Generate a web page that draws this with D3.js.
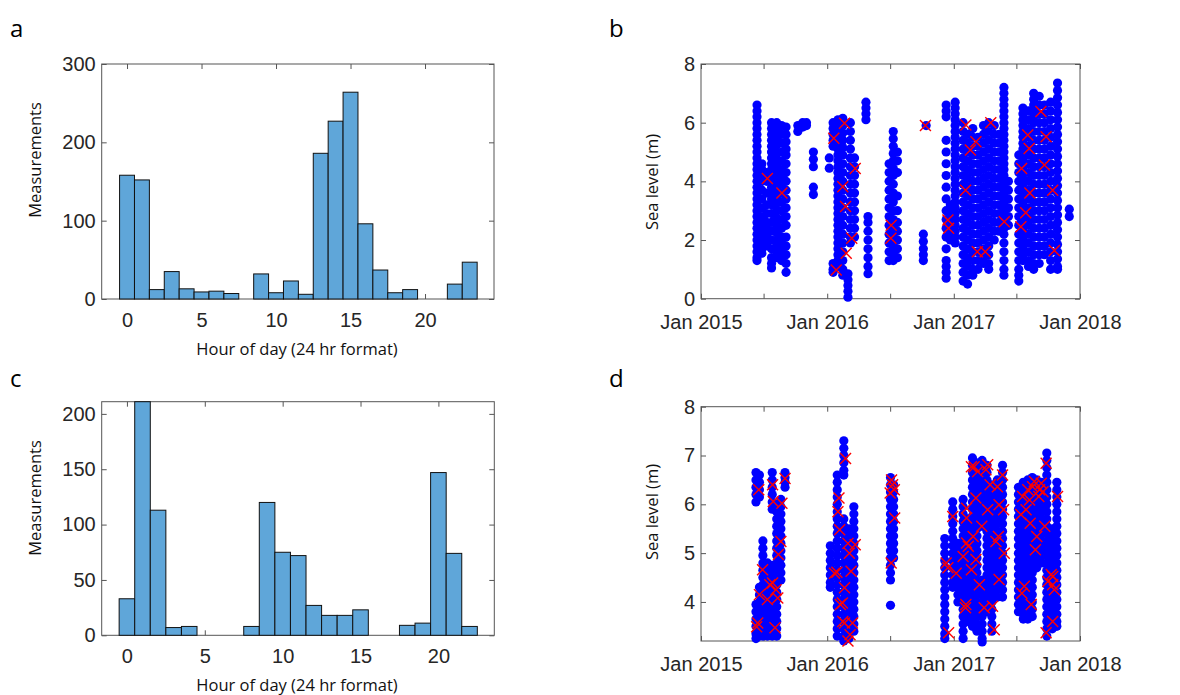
<!DOCTYPE html>
<html>
<head>
<meta charset="utf-8">
<script src="https://cdn.jsdelivr.net/npm/d3@7"></script>
<style>
  body { margin: 0; background: #fff; }
  .tick text { font-family: "Liberation Sans", Arial, sans-serif; font-size: 20px; fill: #262626; }
  .tick line { stroke: #555; }
  .lbl { font-family: "Open Sans", sans-serif; font-size: 16.5px; fill: #111; }
  .panel { font-family: "Open Sans", sans-serif; font-size: 24px; fill: #000; }
</style>
</head>
<body>
<script>
// ---- data ----
var hoursA = [0,1,2,3,4,5,6,7,8,9,10,11,12,13,14,15,16,17,18,19,20,21,22,23];
var countsA = [158,152,12,35,13,9,10,7,0,32,8,23,6,186,227,264,96,37,8,12,0,0,19,47];
var hoursC = [0,1,2,3,4,5,6,7,8,9,10,11,12,13,14,15,16,17,18,19,20,21,22];
var countsC = [33,211,113,7,8,0,0,0,8,120,75,72,27,18,18,23,0,0,9,11,147,74,8];

var histTicks = [0,5,10,15,20];
var yTicksA = [0,100,200,300];
var yTicksC = [0,50,100,150,200];
var yTicksB = [0,2,4,6,8];
var yTicksD = [4,5,6,7,8];

// sea level measurements, grouped by date: [date, "levels"]
var seaB = [
  ["2015-06-12","6.6 6.4 6.2 6.0 5.8 5.6 5.4 5.2 5.0 4.8 4.6 4.4 4.2 4.0 3.8 3.6 3.4 3.2 3.0 2.8 2.6 2.4 2.2 2.0 1.8 1.6 1.4 1.3"],
  ["2015-06-26","4.6 4.4 4.2 4.0 3.7 3.4 3.1 2.8 2.5 2.3 2.1 1.9 1.7 1.55"],
  ["2015-07-10","4.3 4.0 3.6 3.2 2.9 2.6 2.4 2.2 2.0 1.9 1.8"],
  ["2015-07-24","6.0 5.8 5.6 5.4 5.2 5.0 4.8 4.6 4.4 4.2 4.0 3.8 3.6 3.4 3.2 2.9 2.6 2.3 2.0 1.7 1.4 1.2 1.05"],
  ["2015-08-08","6.0 5.75 5.5 5.25 5.0 4.75 4.5 4.25 4.0 3.75 3.5 3.25 3.0 2.75 2.5 2.25 2.0 1.8 1.6 1.4"],
  ["2015-08-22","5.9 5.6 5.3 5.0 4.7 4.4 4.1 3.9 3.6 3.3 3.0 2.7 2.4 2.1 1.9 1.7 1.5 1.3"],
  ["2015-09-04","5.85 5.6 5.35 5.1 4.9 4.6 4.3 4.0 3.7 3.4 3.1 2.8 2.5 2.1 1.8 1.5 1.2 0.9"],
  ["2015-10-08","5.7 5.9"],
  ["2015-10-22","5.85 6.0"],
  ["2015-11-02","5.9 6.0"],
  ["2015-11-22","5.0 4.75 4.5 3.8 3.55"],
  ["2016-01-07","4.8 4.45"],
  ["2016-01-18","6.0 5.8 5.6 5.4 5.2 1.2 1.0 0.9"],
  ["2016-02-01","6.1 5.9 5.7 5.5 5.3 5.1 4.9 4.7 4.5 4.3 4.1 3.9 3.7 3.5 3.3 3.1 2.9 2.7 2.5 2.3 2.1 1.9 1.7 1.5 1.3 1.1"],
  ["2016-02-15","6.15 5.9 5.65 5.4 5.15 4.9 4.6 4.3 4.0 3.7 3.4 3.1 2.8 2.5 2.2 1.9 1.6 1.3 1.0 0.8"],
  ["2016-03-01","0.85 0.65 0.45 0.25 0.05"],
  ["2016-03-08","6.0 5.7 5.4 5.1 4.8 4.5 4.2 3.9 3.6 3.3 3.0 2.7 2.4 2.1 1.9"],
  ["2016-03-20","4.8 4.5 4.2 3.9 3.6 3.3 3.0 2.7 2.4 2.1"],
  ["2016-04-22","6.7 6.5 6.3 6.1"],
  ["2016-04-28","2.8 2.6 2.3 2.0 1.7 1.4 1.1 0.85"],
  ["2016-06-28","4.6 4.3 4.0 3.7 3.4 3.1 2.8 2.5 2.2 1.9 1.6 1.3"],
  ["2016-07-10","5.7 5.45 5.2 4.95 4.7 4.45 4.2 3.9 3.6 3.3 3.0 2.7 2.4 2.1 1.8 1.5 1.3"],
  ["2016-07-22","5.0 4.7 4.3 3.5 3.0 2.6 2.3 2.0 1.7 1.4"],
  ["2016-10-05","2.2 1.95 1.7 1.5 1.3"],
  ["2016-10-13","5.9"],
  ["2016-12-10","6.6 6.4 6.2 5.4 5.0 4.6 4.2 3.8 3.4 3.0 2.7 2.4 2.1 1.7 1.3 1.1 0.9 0.7"],
  ["2016-12-22","3.2 3.0 2.8 2.6 2.4 2.2 2.0"],
  ["2017-01-05","6.7 6.5 6.3 6.1 5.9 5.7 5.5 5.3 5.1 4.9 4.7 4.5 4.3 4.1 3.9 3.7 3.5 3.3 3.1 2.9 2.7 2.5 2.3 2.1 1.9"],
  ["2017-01-28","6.0 5.7 5.4 5.1 4.8 4.5 4.2 3.9 3.6 3.3 3.0 2.7 2.4 2.1 1.8 1.5 1.2 0.9 0.6"],
  ["2017-02-10","5.6 5.3 5.0 4.7 4.4 4.1 3.8 3.5 3.2 2.9 2.6 2.3 2.0 1.7 1.4 1.1 0.8 0.5"],
  ["2017-02-25","5.8 5.5 5.2 4.9 4.6 4.3 4.0 3.7 3.4 3.1 2.8 2.5 2.2 1.9 1.6 1.3 1.0 0.8"],
  ["2017-03-12","5.5 5.2 4.9 4.6 4.3 4.0 3.7 3.4 3.1 2.8 2.5 2.2 1.9 1.6 1.3 1.0"],
  ["2017-03-28","5.9 5.6 5.3 5.0 4.7 4.4 4.1 3.8 3.5 3.2 2.9 2.6 2.3 2.0 1.7 1.4 1.2"],
  ["2017-04-12","6.0 5.7 5.4 5.1 4.8 4.5 4.2 3.9 3.6 3.3 3.0 2.7 2.4 2.1 1.8 1.5 1.2 1.0"],
  ["2017-04-28","5.9 5.6 5.3 5.0 4.7 4.4 4.1 3.8 3.5 3.2 2.9 2.6 2.3 2.0"],
  ["2017-05-12","5.6 5.3 5.0 4.7 4.4 4.1 3.8 3.5 3.2 2.9 2.6 2.3"],
  ["2017-05-26","7.2 7.0 6.8 6.6 6.4 6.2 6.0 5.8 5.6 5.4 5.2 5.0 4.8 4.6 4.4 4.2 4.0 3.8 3.6 3.4 3.2 3.0 2.8 2.6 2.4 2.2 1.9 1.6 1.3 1.0 0.8"],
  ["2017-06-08","4.0 3.7 3.4 3.1 2.8 2.5"],
  ["2017-07-08","4.9 4.6 4.3 4.0 3.7 3.4 3.1 2.8 2.5 2.2 1.9 1.6 1.3 1.0 0.8 0.6"],
  ["2017-07-20","6.5 6.3 6.1 5.9 5.7 5.5 5.3 5.1 4.9 4.7 4.5 4.3 4.1 3.9 3.7 3.5 3.3 3.1 2.9 2.7 2.5 2.3 2.1 1.9 1.7 1.5 1.3"],
  ["2017-08-05","6.4 6.1 5.8 5.5 5.2 4.9 4.6 4.3 4.0 3.7 3.4 3.1 2.8 2.5 2.2 1.9 1.6 1.3 1.1"],
  ["2017-08-20","7.0 6.8 6.6 6.4 6.2 6.0 5.7 5.4 5.1 4.8 4.5 4.2 3.9 3.6 3.3 3.0 2.7 2.4 2.1 1.8 1.5 1.2 1.0"],
  ["2017-09-05","6.9 6.6 6.3 6.0 5.7 5.4 5.1 4.8 4.5 4.2 3.9 3.6 3.3 3.0 2.7 2.4 2.1 1.8 1.5 1.2"],
  ["2017-09-20","6.6 6.3 6.0 5.7 5.4 5.1 4.8 4.5 4.2 3.9 3.6 3.3 3.0 2.7 2.4 2.1 1.8 1.5"],
  ["2017-10-08","6.7 6.4 6.1 5.8 5.5 5.2 4.9 4.6 4.3 4.0 3.7 3.4 3.1 2.8 2.5 2.2 1.9 1.6 1.3 1.0"],
  ["2017-10-28","7.35 7.1 6.85 6.6 6.35 6.1 5.85 5.6 5.35 5.1 4.85 4.6 4.35 4.1 3.85 3.6 3.35 3.1 2.85 2.6 2.35 2.1 1.85 1.6 1.35 1.1 1.0"],
  ["2017-12-01","3.05 2.8"]
];
var crossB = [
  ["2015-07-12",4.1],["2015-08-23",3.6],["2016-01-20",5.47],["2016-01-27",0.98],
  ["2016-02-20",5.98],["2016-02-15",3.82],["2016-02-23",3.14],["2016-02-25",1.55],
  ["2016-03-22",4.44],["2016-03-12",2.06],["2016-07-04",2.5],["2016-07-03",2.06],
  ["2016-10-11",5.9],["2016-12-15",2.68],["2016-12-17",2.4],["2017-02-05",5.92],
  ["2017-02-04",3.7],["2017-02-18",5.07],["2017-03-06",5.35],["2017-03-10",1.6],
  ["2017-04-02",1.6],["2017-04-18",6.0],["2017-05-27",2.62],["2017-07-14",2.45],
  ["2017-07-16",4.44],["2017-08-03",5.58],["2017-08-07",5.12],["2017-07-28",2.93],
  ["2017-08-09",3.6],["2017-09-10",6.38],["2017-09-20",4.56],["2017-09-25",5.52],
  ["2017-10-14",3.7],["2017-10-19",1.64]
];

var seaD = [
  ["2015-06-09","6.65 6.5 6.35 6.2 6.05 3.95 3.8 3.65 3.5 3.35 3.25"],
  ["2015-06-19","6.6 6.45 6.3 6.15 4.3 4.15 4.0 3.85 3.7 3.55 3.4 3.3"],
  ["2015-06-29","5.25 5.1 4.95 4.8 4.65 4.5 4.35 4.2 4.05 3.9 3.75 3.6 3.45 3.3"],
  ["2015-07-12","4.8 4.65 4.5 4.35 4.2 4.05 3.9 3.75 3.6 3.45 3.3"],
  ["2015-07-26","6.65 6.5 6.35 6.2 6.05 5.9 4.75 4.6 4.45 4.3 4.15 4.0 3.85 3.7 3.55 3.4 3.3"],
  ["2015-08-08","6.0 5.85 5.7 5.55 5.4 5.25 5.1 4.95 4.8 4.65 4.5 4.35 4.2 4.05 3.9 3.75 3.6 3.45 3.3"],
  ["2015-08-20","6.1 5.95 5.8 5.65 5.5 5.35 5.2 5.05 4.9 4.75 4.6 4.45"],
  ["2015-09-01","6.65 6.55 6.45 6.35"],
  ["2016-01-10","5.15 5.0 4.85 4.7 4.55 4.4 4.3"],
  ["2016-01-30","6.6 6.45 6.3 6.15 6.0 5.85 5.7 5.55 5.4 5.25 5.1 4.95 4.8 4.65 4.5 4.35 4.2 4.05 3.9 3.75 3.6 3.45 3.3"],
  ["2016-02-18","7.3 7.15 7.0 6.85 6.7 6.6 5.7 5.55 5.4 5.25 5.1 4.95 4.8 4.65 4.5 4.35 4.2 4.05 3.9 3.75 3.6 3.45 3.3 3.2"],
  ["2016-03-04","5.5 5.35 5.2 5.05 4.9 4.75 4.6 4.45 4.3 4.15 4.0 3.85 3.7 3.55 3.4 3.25"],
  ["2016-03-18","5.95 5.8 5.65 5.5 5.35 5.2 5.05 4.9 4.75 4.6 4.45 4.3 4.15 4.0 3.85 3.7 3.55 3.4"],
  ["2016-07-02","6.55 6.4 6.25 6.1 5.95 5.8 5.65 5.5 5.35 5.2 5.05 4.9 4.75 4.6 4.45 3.93"],
  ["2016-07-11","6.4 6.25 6.1 5.95 5.8 5.65 5.5 5.35 5.2 5.05 4.9"],
  ["2016-12-06","5.3 5.15 5.0 4.85 4.7 4.55 4.4 4.25 4.1 3.95 3.8 3.65 3.5 3.35 3.25"],
  ["2016-12-29","6.05 5.9 5.75 5.6 5.45 5.3 5.15 5.0 4.85 4.7 4.55 4.4 4.3"],
  ["2017-01-13","5.2 5.05 4.9 4.75 4.6 4.45 4.3 4.15 4.0"],
  ["2017-01-28","6.1 5.95 5.8 5.65 5.5 5.35 5.2 5.05 4.9 4.75 4.6 4.45 4.3 4.15 4.0 3.85 3.7 3.55 3.4 3.25"],
  ["2017-02-10","5.7 5.55 5.4 5.25 5.1 4.95 4.8 4.65 4.5 4.35 4.2 4.05 3.9 3.75 3.6"],
  ["2017-02-24","6.95 6.8 6.65 6.5 6.35 6.2 6.05 5.9 5.75 5.6 5.45 5.3 5.15 5.0 4.85 4.7 4.55 4.4 4.25 4.1 3.95 3.8 3.65 3.5"],
  ["2017-03-09","6.85 6.7 6.55 6.4 6.25 6.1 5.95 5.8 5.65 5.5 5.35 5.2 5.05 4.9 4.75 4.6 4.45 4.3 4.15 4.0 3.85 3.7 3.55 3.4"],
  ["2017-03-24","6.9 6.75 6.6 6.45 6.3 6.15 6.0 5.85 5.7 5.55 4.45 4.3 4.15 4.0 3.85 3.7 3.55 3.4 3.25 3.18"],
  ["2017-04-07","6.8 6.65 6.5 6.35 6.2 6.05 5.9 5.75 5.6 5.45 5.3 5.15 5.0 4.85 4.7 4.55 4.4 4.25 4.1 3.95 3.8"],
  ["2017-04-21","6.4 6.25 6.1 5.95 5.8 5.65 5.5 5.35 5.2 5.05 4.9 4.75 4.6 4.45 4.3 4.15 4.0 3.85 3.7 3.55 3.4"],
  ["2017-05-07","6.5 6.35 6.2 6.05 5.9 5.75 5.6 5.45 5.3 5.15 5.0 4.85 4.7 4.55 4.4 4.25 4.1"],
  ["2017-05-22","6.8 6.65 6.5 6.35 6.2 6.05 5.9 5.75 5.6 5.45 5.3 5.15 5.0 4.85 4.7 4.55 4.4 4.25 4.1"],
  ["2017-07-07","6.35 6.2 6.05 5.9 5.75 5.6 5.45 5.3 5.15 5.0 4.85 4.7 4.55 4.4 4.25 4.1 3.95 3.8"],
  ["2017-07-21","6.45 6.3 6.15 6.0 5.85 5.7 5.55 5.4 5.25 5.1 4.95 4.8 4.65 4.5 4.35 4.2 4.05 3.9 3.75 3.65"],
  ["2017-08-03","6.5 6.35 6.2 6.05 5.9 5.75 5.6 5.45 5.3 5.15 5.0 4.85 4.7 4.55 4.4 4.25 4.1 3.95 3.8 3.65"],
  ["2017-08-16","6.55 6.4 6.25 6.1 5.95 5.8 5.65 5.5 5.35 5.2 5.05 4.9 4.75 4.6 4.45 4.3 4.15 4.0 3.85 3.7"],
  ["2017-08-29","6.5 6.35 6.2 6.05 5.9 5.75 5.6 5.45 5.3 5.15 5.0 4.85 4.7"],
  ["2017-09-12","6.45 6.3 6.15 6.0 5.85 5.7 5.55 5.4 5.25 5.1 4.95 4.8"],
  ["2017-09-27","7.05 6.9 6.75 6.6 6.45 6.3 6.15 6.0 5.85 5.7 5.55 5.4 5.25 5.1 4.95 4.8 4.65 4.5 4.35 4.2 4.05 3.9 3.75 3.6 3.45 3.3"],
  ["2017-10-13","5.5 5.35 5.2 5.05 4.9 4.75 4.6 4.45 4.3 4.15 4.0 3.85 3.7 3.55 3.45"],
  ["2017-10-26","6.45 6.3 6.15 6.0 5.85 5.7 5.55 5.4 5.25 5.1 4.95 4.8 4.65 4.5 4.35 4.2 4.05 3.9 3.75 3.6 3.5"]
];
var crossD = [
  ["2015-06-17",6.3],["2015-07-27",6.4],["2015-09-01",6.53],["2015-07-29",6.06],["2015-08-23",6.02],
  ["2015-08-20",5.24],["2015-08-13",4.97],["2015-06-28",4.66],["2015-06-19",4.15],["2015-07-19",4.35],
  ["2015-07-27",4.39],["2015-08-06",4.25],["2015-07-12",4.05],["2015-08-11",4.08],["2015-06-14",3.57],
  ["2015-06-11",3.49],["2015-08-03",3.47],
  ["2016-02-23",6.94],["2016-02-04",6.13],["2016-02-01",5.85],["2016-02-06",5.48],["2016-01-22",4.59],
  ["2016-01-29",4.61],["2016-02-20",4.29],["2016-02-14",3.98],["2016-02-08",3.95],["2016-02-15",3.6],
  ["2016-02-20",3.57],["2016-03-14",3.57],["2016-03-07",3.33],["2016-03-01",3.2],["2016-03-05",5.0],
  ["2016-03-22",5.17],["2016-03-10",4.63],["2016-03-01",5.2],
  ["2016-07-01",6.23],["2016-07-13",6.3],["2016-07-08",6.4],["2016-07-14",5.72],["2016-07-04",4.8],["2016-07-05",6.5],
  ["2016-12-10",4.8],["2016-12-15",4.7],["2016-12-17",3.37],["2016-12-29",5.75],["2017-01-08",4.59],
  ["2017-01-28",4.93],["2017-02-07",5.92],["2017-02-07",5.72],["2017-02-07",5.21],["2017-02-05",3.95],
  ["2017-02-04",3.88],["2017-02-12",5.14],["2017-02-21",4.66],["2017-02-26",5.34],["2017-03-01",6.77],
  ["2017-03-06",4.87],["2017-03-11",6.67],["2017-03-16",4.35],["2017-03-23",5.55],["2017-03-30",3.88],
  ["2017-04-04",6.71],["2017-04-09",6.81],["2017-04-09",5.89],["2017-04-23",3.91],["2017-04-28",3.43],
  ["2017-05-03",5.24],["2017-05-10",5.34],["2017-05-12",5.99],["2017-05-22",6.6],["2017-05-25",5.89],
  ["2017-05-27",5.0],["2017-05-12",4.46],["2017-04-16",6.4],["2017-05-07",6.36],["2017-02-21",6.77],
  ["2017-03-06",6.13],
  ["2017-07-14",5.79],["2017-07-19",6.16],["2017-07-17",4.18],["2017-07-24",4.32],["2017-07-29",5.89],
  ["2017-08-03",6.3],["2017-08-08",6.09],["2017-08-10",5.61],["2017-08-13",3.95],["2017-08-17",6.36],
  ["2017-08-22",6.47],["2017-08-25",5.07],["2017-08-29",5.34],["2017-09-04",6.16],["2017-09-06",6.3],
  ["2017-09-11",6.43],["2017-09-16",6.26],["2017-09-21",5.55],["2017-09-25",6.84],["2017-09-30",4.42],
  ["2017-09-25",3.37],["2017-10-10",4.56],["2017-10-14",4.52],["2017-10-14",4.35],["2017-10-14",3.6],
  ["2017-10-28",6.16],["2017-10-19",4.25]
];

var parseDate = d3.timeParse("%Y-%m-%d");
var monthFmt = d3.timeFormat("%b %Y");

var svg = d3.select("body").append("svg")
    .attr("width", 1180)
    .attr("height", 695);

function drawFrame(g, x, y, xTicks, yTicks, xFmt, xPad) {
  var xb = d3.axisBottom(x).tickValues(xTicks).tickSize(-5).tickPadding(xPad).tickFormat(xFmt);
  var xt = d3.axisTop(x).tickValues(xTicks).tickSize(-5).tickFormat("");
  var yl = d3.axisLeft(y).tickValues(yTicks).tickSize(-5).tickPadding(6).tickFormat(d3.format("d"));
  var yr = d3.axisRight(y).tickValues(yTicks).tickSize(-5).tickFormat("");
  var r = x.range(), h = y.range();
  g.append("g").attr("transform", "translate(0," + h[0] + ")").call(xb);
  g.append("g").attr("transform", "translate(0," + h[1] + ")").call(xt);
  g.append("g").attr("transform", "translate(" + r[0] + ",0)").call(yl);
  g.append("g").attr("transform", "translate(" + r[1] + ",0)").call(yr);
  g.selectAll(".domain").remove();
  g.append("rect")
    .attr("x", r[0]).attr("y", h[1])
    .attr("width", r[1] - r[0]).attr("height", h[0] - h[1])
    .attr("fill", "none").attr("stroke", "#555").attr("stroke-width", 1);
}

function drawHist(hours, counts, box, xDom, yMax, yTicks) {
  var g = svg.append("g");
  var x = d3.scaleLinear().domain(xDom).range([box.left, box.right]);
  var y = d3.scaleLinear().domain([0, yMax]).range([box.bottom, box.top]);
  drawFrame(g, x, y, histTicks, yTicks, d3.format("d"), 14);
  g.selectAll(".bar").data(hours).enter().append("rect")
    .attr("x", function(d){ return x(d - 0.5); })
    .attr("width", function(d){ return x(d + 0.5) - x(d - 0.5); })
    .attr("y", function(d, i){ return y(counts[i]); })
    .attr("height", function(d, i){ return y(0) - y(counts[i]); })
    .attr("fill", "#5fa6d9")
    .attr("stroke", "#111")
    .attr("stroke-width", 1);
  return g;
}

function drawSea(cols, crosses, box, yDom, yTicks) {
  var g = svg.append("g");
  var x = d3.scaleTime().domain([parseDate("2015-01-01"), parseDate("2018-01-01")]).range([box.left, box.right]);
  var y = d3.scaleLinear().domain(yDom).range([box.bottom, box.top]);
  var xTicks = d3.timeMonth.every(6).range(parseDate("2015-01-01"), parseDate("2018-01-02"));
  drawFrame(g, x, y, xTicks, yTicks, function(d){ return d.getMonth() === 0 ? monthFmt(d) : ""; }, 16);

  var pts = [];
  cols.forEach(function(c) {
    var dt = parseDate(c[0]);
    c[1].split(" ").forEach(function(v){ pts.push({date: dt, level: +v}); });
  });
  g.selectAll(".pt").data(pts).enter().append("circle")
    .attr("cx", function(d){ return x(d.date); })
    .attr("cy", function(d){ return y(d.level); })
    .attr("r", 4.6)
    .attr("fill", "#0000ff");

  var s = 5.5;
  g.selectAll(".cross").data(crosses).enter().append("path")
    .attr("transform", function(d){ return "translate(" + x(parseDate(d[0])) + "," + y(d[1]) + ")"; })
    .attr("d", "M" + (-s) + "," + (-s) + "L" + s + "," + s + "M" + (-s) + "," + s + "L" + s + "," + (-s))
    .attr("stroke", "#ff0000")
    .attr("stroke-width", 1.4)
    .attr("fill", "none");
  return g;
}

drawHist(hoursA, countsA, {left: 101.7, right: 494, top: 64, bottom: 299}, [-1.7, 24.63], 300, yTicksA);
drawHist(hoursC, countsC, {left: 101.7, right: 494.3, top: 401.7, bottom: 635.3}, [-1.62, 23.59], 211, yTicksC);
drawSea(seaB, crossB, {left: 701, right: 1080, top: 64, bottom: 298.7}, [0, 8], yTicksB);
drawSea(seaD, crossD, {left: 701, right: 1080, top: 406.7, bottom: 641}, [3.2, 8], yTicksD);

// axis labels
function label(txt, x, y, rot) {
  svg.append("text").attr("class", "lbl")
    .attr("text-anchor", "middle")
    .attr("transform", "translate(" + x + "," + y + ")" + (rot ? " rotate(-90)" : ""))
    .attr("dy", "0.35em")
    .text(txt);
}
label("Measurements", 35, 160, true);
label("Measurements", 35, 498, true);
label("Hour of day (24 hr format)", 297, 349, false);
label("Hour of day (24 hr format)", 297, 685, false);
label("Sea level (m)", 652, 182, true);
label("Sea level (m)", 652, 512, true);

// panel letters
[["a", 10, 37], ["b", 609, 37], ["c", 10, 387], ["d", 609, 387]].forEach(function(p) {
  svg.append("text").attr("class", "panel").attr("x", p[1]).attr("y", p[2]).text(p[0]);
});
</script>
</body>
</html>
